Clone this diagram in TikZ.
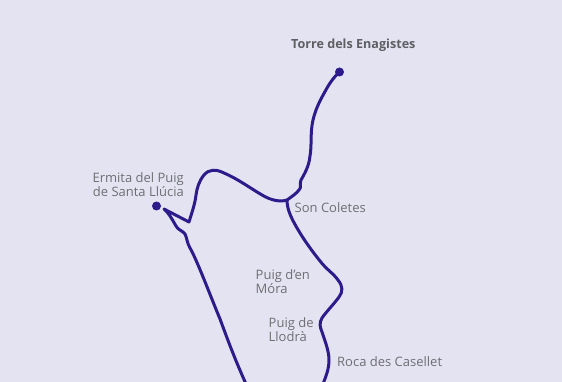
\documentclass[tikz,border=0pt]{standalone}
\usepackage{fontspec}
\setmainfont{Open Sans}
\definecolor{bgc}{HTML}{E4E3F1}
\definecolor{routec}{HTML}{2D1B8C}
\definecolor{txtc}{HTML}{6F6E74}
\tikzset{
 route/.style={draw=routec,line width=3pt,line join=round,line cap=round},
 stopdot/.style={circle,fill=routec,inner sep=0pt,minimum size=9pt},
 lab/.style={text=txtc,font=\fontsize{13pt}{14pt}\selectfont,inner sep=0pt,align=left,anchor=west},
 boldlab/.style={lab,text=txtc!85!black,font=\fontsize{12.6pt}{14pt}\selectfont\bfseries}
}
\begin{document}
\begin{tikzpicture}[x=1pt,y=-1pt]
\useasboundingbox[fill=bgc] (0,0) rectangle (562,382);
\clip (0,0) rectangle (562,382);
\node[boldlab] (torre) at (291,45) {Torre dels Enagistes};
\node[lab,anchor=east,align=right] (ermita) at (184,184.5) {Ermita del Puig\\de Santa Llúcia};
\node[lab] (coletes) at (294.5,208) {Son Coletes};
\node[lab] (mora) at (255.5,281.5) {Puig d’en\\Móra};
\node[lab] (llodra) at (268.5,329.5) {Puig de\\Llodrà};
\node[lab] (roca) at (337,362) {Roca des Casellet};
\node[stopdot] (a) at (339.5,72) {};
\node[stopdot] (b) at (156.5,206) {};
\coordinate (j) at (287,200);
\coordinate (e1) at (246,384);
\coordinate (e2) at (323,384);
\coordinate (s) at (164,209);
\draw[route] (a.center) .. controls (335,76) and (331,81) .. (327,88)
 .. controls (322,97) and (316,107) .. (313,120)
 .. controls (310,133) and (312,145) .. (310,156)
 .. controls (309,166) and (305,173) .. (301,180)
 .. controls (299,185) and (302,187) .. (299,190)
 .. controls (296,194) and (291,197) .. (j)
 .. controls (281,202) and (272,201) .. (262,195)
 .. controls (250,188) and (238,179) .. (224,173)
 .. controls (216,169) and (209,169) .. (204,175)
 .. controls (199,181) and (197,188) .. (196,195)
 .. controls (195,204) and (192,212) .. (189,222)
 -- (s)
 .. controls (168,212) and (172,219) .. (176,226)
 .. controls (178,230) and (183,231) .. (185,234)
 .. controls (187,238) and (187,243) .. (190,248)
 .. controls (197,260) and (210,295) .. (220,319)
 .. controls (226,335) and (233,355) .. (e1);
\draw[route] (j) .. controls (287,208) and (290,216) .. (297,228)
 .. controls (304,240) and (312,251) .. (320,261)
 .. controls (327,270) and (333,273) .. (338,280)
 .. controls (343,286) and (343,292) .. (339,297)
 .. controls (334,304) and (326,312) .. (322,318)
 .. controls (319,323) and (320,327) .. (322,332)
 .. controls (325,341) and (329,351) .. (329,360)
 .. controls (329,369) and (326,376) .. (e2);
\end{tikzpicture}
\end{document}
